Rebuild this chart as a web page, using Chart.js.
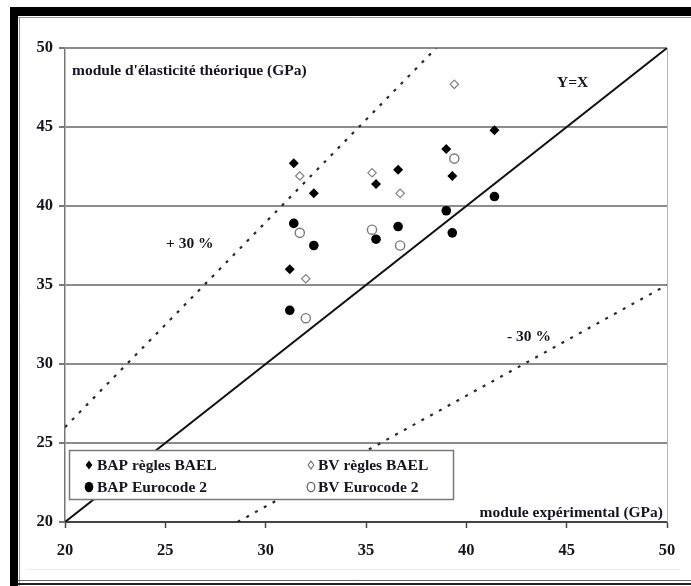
<!DOCTYPE html>
<html>
<head>
<meta charset="utf-8">
<script src="https://cdn.jsdelivr.net/npm/chart.js@4.4.1/dist/chart.umd.min.js"></script>
<style>
  html, body { margin: 0; padding: 0; background: #fff; }
  #wrap { width: 691px; height: 586px; }
</style>
</head>
<body>
<div id="wrap"><canvas id="chart" width="691" height="586"></canvas></div>
<script>
// ---- data ----
const bapX = [31.4, 32.4, 31.2, 35.5, 36.6, 39.0, 39.3, 41.4];
const bapBael = [42.7, 40.8, 36.0, 41.4, 42.3, 43.6, 41.9, 44.8];
const bapEc2 = [38.9, 37.5, 33.4, 37.9, 38.7, 39.7, 38.3, 40.6];

const bvX = [31.7, 32.0, 35.3, 36.7, 39.4];
const bvBael = [41.9, 35.4, 42.1, 40.8, 47.7];
const bvEc2 = [38.3, 32.9, 38.5, 37.5, 43.0];

// reference lines (end points)
const yxLineX = [20, 50], yxLineY = [20, 50];
const plus30X = [20, 38.5], plus30Y = [26, 50];
const minus30X = [28.6, 50], minus30Y = [20, 35];

const tickValues = [20, 25, 30, 35, 40, 45, 50];

const FONT = '"Liberation Serif", "Times New Roman", serif';
const TXT = '#15151f';

const pts = (xs, ys) => xs.map((x, i) => ({ x: x, y: ys[i] }));

// ---- helpers for drawing markers ----
function diamond(ctx, x, y, r, fill, stroke) {
  ctx.beginPath();
  ctx.moveTo(x, y - r * 1.15);
  ctx.lineTo(x + r * 0.85, y);
  ctx.lineTo(x, y + r * 1.15);
  ctx.lineTo(x - r * 0.85, y);
  ctx.closePath();
  ctx.fillStyle = fill;
  ctx.fill();
  if (stroke) { ctx.strokeStyle = stroke; ctx.lineWidth = 1.2; ctx.stroke(); }
}
function circle(ctx, x, y, r, fill, stroke) {
  ctx.beginPath();
  ctx.ellipse(x, y, r * 0.9, r * 1.1, 0, 0, Math.PI * 2);
  ctx.fillStyle = fill;
  ctx.fill();
  if (stroke) { ctx.strokeStyle = stroke; ctx.lineWidth = 1.3; ctx.stroke(); }
}

// ---- frame, legend box and labels ----
const decor = {
  id: 'decor',
  beforeDraw(chart) {
    const ctx = chart.ctx;
    ctx.save();
    ctx.fillStyle = '#fff';
    ctx.fillRect(0, 0, chart.width, chart.height);
    // thick black frame (top + left)
    ctx.fillStyle = '#000';
    ctx.fillRect(10, 7, 681, 9);
    ctx.fillRect(10, 7, 8, 579);
    // thin inner lines
    ctx.strokeStyle = '#9a9a9a';
    ctx.lineWidth = 1;
    ctx.beginPath();
    ctx.moveTo(19.5, 17); ctx.lineTo(19.5, 586);
    ctx.moveTo(18, 17.5); ctx.lineTo(691, 17.5);
    ctx.stroke();
    // bottom double line
    ctx.strokeStyle = '#666';
    ctx.beginPath(); ctx.moveTo(18, 580.5); ctx.lineTo(691, 580.5); ctx.stroke();
    ctx.strokeStyle = '#222';
    ctx.lineWidth = 2;
    ctx.beginPath(); ctx.moveTo(18, 584); ctx.lineTo(691, 584); ctx.stroke();
    // faint line under the x labels
    ctx.strokeStyle = '#ececec';
    ctx.lineWidth = 1;
    ctx.beginPath(); ctx.moveTo(26, 569.5); ctx.lineTo(680, 569.5); ctx.stroke();
    ctx.restore();
  },
  afterDatasetsDraw(chart) {
    const ctx = chart.ctx;
    const a = chart.chartArea;
    ctx.save();
    // right border of plot
    ctx.strokeStyle = '#b5b5b5';
    ctx.lineWidth = 1;
    ctx.beginPath(); ctx.moveTo(a.right + 0.5, a.top); ctx.lineTo(a.right + 0.5, a.bottom); ctx.stroke();

    // legend box
    ctx.fillStyle = '#fff';
    ctx.fillRect(69, 450, 384, 49);
    ctx.strokeStyle = '#7a7a7a';
    ctx.lineWidth = 1.5;
    ctx.strokeRect(69.5, 450.5, 384, 49);

    diamond(ctx, 89, 465, 4, '#000');
    circle(ctx, 89, 487, 4.8, '#000');
    diamond(ctx, 311, 465, 3.4, '#fff', '#777');
    circle(ctx, 311, 487, 4.2, '#fff', '#666');

    ctx.fillStyle = TXT;
    ctx.font = 'bold 15.5px ' + FONT;
    ctx.textBaseline = 'middle';
    ctx.textAlign = 'left';
    ctx.fillText('BAP règles BAEL', 97, 466);
    ctx.fillText('BAP Eurocode 2', 97, 488);
    ctx.fillText('BV règles BAEL', 318, 466);
    ctx.fillText('BV Eurocode 2', 318, 488);

    // annotations
    ctx.fillText("module d'élasticité théorique (GPa)", 72, 71);
    ctx.fillText('Y=X', 557, 83);
    ctx.fillText('+ 30 %', 166, 244);
    ctx.fillText('- 30 %', 507, 337);
    ctx.textAlign = 'right';
    ctx.fillText('module expérimental (GPa)', 663, 513);
    ctx.restore();
  }
};

const lineDs = (xs, ys, dash) => ({
  type: 'line',
  data: pts(xs, ys),
  borderColor: dash ? '#2a2a2a' : '#111',
  borderWidth: dash ? 2.2 : 2,
  borderDash: dash ? [3, 7] : [],
  pointRadius: 0,
  fill: false,
  order: 5
});

new Chart(document.getElementById('chart'), {
  type: 'scatter',
  data: {
    datasets: [
      lineDs(yxLineX, yxLineY, false),
      lineDs(plus30X, plus30Y, true),
      lineDs(minus30X, minus30Y, true),
      {
        label: 'BAP règles BAEL',
        data: pts(bapX, bapBael),
        pointStyle: 'rectRot',
        pointRadius: 5,
        backgroundColor: '#000',
        borderColor: '#000',
        borderWidth: 0,
        order: 1
      },
      {
        label: 'BV règles BAEL',
        data: pts(bvX, bvBael),
        pointStyle: 'rectRot',
        pointRadius: 4.2,
        backgroundColor: '#fff',
        borderColor: '#808080',
        borderWidth: 1.2,
        order: 1
      },
      {
        label: 'BAP Eurocode 2',
        data: pts(bapX, bapEc2),
        pointStyle: 'circle',
        pointRadius: 4.8,
        backgroundColor: '#000',
        borderColor: '#000',
        borderWidth: 0,
        order: 1
      },
      {
        label: 'BV Eurocode 2',
        data: pts(bvX, bvEc2),
        pointStyle: 'circle',
        pointRadius: 4.6,
        backgroundColor: '#fff',
        borderColor: '#7a7a7a',
        borderWidth: 1.4,
        order: 1
      }
    ]
  },
  options: {
    responsive: false,
    animation: false,
    layout: { padding: { left: 20, right: 24, top: 48, bottom: 0 } },
    plugins: {
      legend: { display: false },
      tooltip: { enabled: false }
    },
    scales: {
      x: {
        type: 'linear',
        min: 20, max: 50,
        afterFit: (s) => { s.height = 64; },
        afterBuildTicks: (s) => { s.ticks = tickValues.map(v => ({ value: v })); },
        border: { color: '#444', width: 2 },
        grid: { drawOnChartArea: false, drawTicks: true, tickLength: 6, tickColor: '#444', tickWidth: 1.5 },
        ticks: { color: TXT, padding: 13, font: { family: FONT, size: 16.5, weight: 'bold' } }
      },
      y: {
        type: 'linear',
        min: 20, max: 50,
        afterFit: (s) => { s.width = 45; },
        afterBuildTicks: (s) => { s.ticks = tickValues.map(v => ({ value: v })); },
        border: { color: '#777', width: 1.5 },
        grid: { color: '#8c8c8c', lineWidth: 2, drawTicks: true, tickLength: 6, tickColor: '#777' },
        ticks: { color: TXT, padding: 6, font: { family: FONT, size: 16.5, weight: 'bold' } }
      }
    }
  },
  plugins: [decor]
});
</script>
</body>
</html>
